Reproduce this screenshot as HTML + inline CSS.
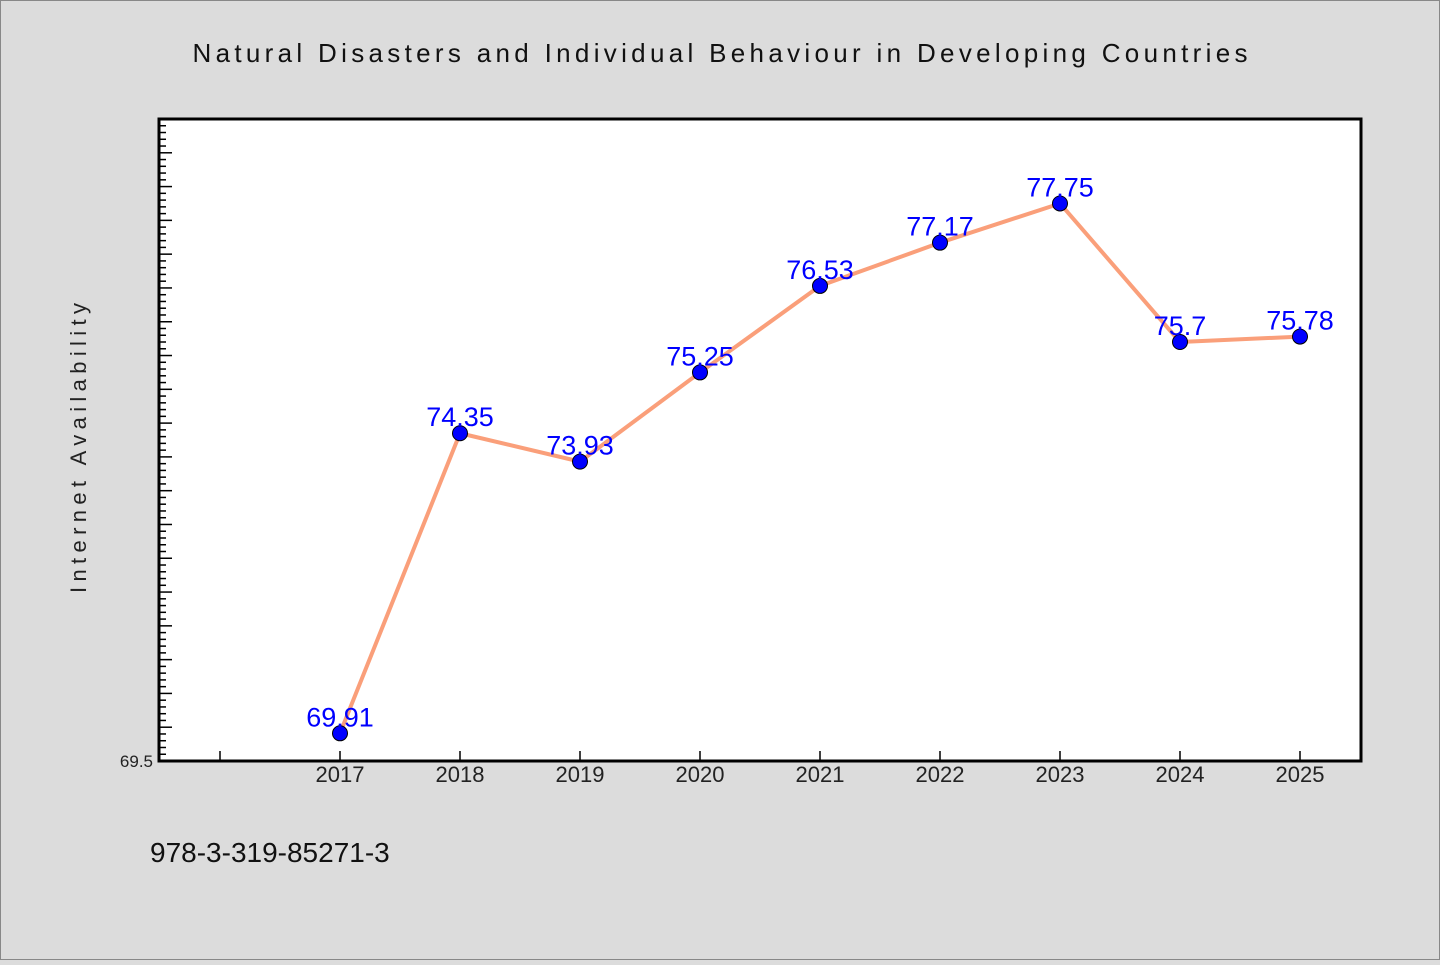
<!DOCTYPE html>
<html><head><meta charset="utf-8"><style>
body{margin:0;background:#dcdcdc}
svg text{font-family:"WenQuanYi Zen Hei","Liberation Sans",sans-serif}
</style></head><body>
<svg width="1440" height="960" xmlns="http://www.w3.org/2000/svg">
<rect x="0.5" y="0.5" width="1439" height="959" fill="#dcdcdc" stroke="#888"/>
<text x="720" y="62" text-anchor="middle" font-size="26" textLength="1055" fill="#111">Natural Disasters and Individual Behaviour in Developing Countries</text>
<rect x="159" y="119" width="1202" height="642" fill="#fff"/>
<g id="ticks"></g>
<polyline id="line" fill="none" stroke="#fa9f7a" stroke-width="4" stroke-linejoin="round"/>
<g id="pts"></g>
<rect x="159" y="119" width="1202" height="642" fill="none" stroke="#000" stroke-width="3"/>
<text x="86" y="448" transform="rotate(-90 86 448)" text-anchor="middle" font-size="22" textLength="290" fill="#222">Internet Availability</text>
<text x="150" y="862" font-size="28" fill="#111">978-3-319-85271-3</text>
</svg>
<script>
const years=[2017,2018,2019,2020,2021,2022,2023,2024,2025];
const values=[69.91,74.35,73.93,75.25,76.53,77.17,77.75,75.7,75.78];
const yMin=69.5,yMax=79.0;
const NS="http://www.w3.org/2000/svg";
function X(v){return 340+(v-2017)*120;}
function Y(v){return 761-(v-yMin)*(642/(yMax-yMin));}
const tk=document.getElementById('ticks');
function mk(t,a,p){const e=document.createElementNS(NS,t);for(const k in a)e.setAttribute(k,a[k]);p.appendChild(e);return e;}
for(let i=0;i<=95;i++){const v=yMin+i*0.1;const y=Y(v);const major=i%5===0;
 const l=mk('line',{x1:159,x2:159+(major?13:7),y1:y,y2:y,stroke:'#000','stroke-width':1.5},tk);
 
 }
const yl=mk('text',{x:153,y:767,'text-anchor':'end','font-size':17,fill:'#222'},document.querySelector('svg'));
yl.textContent=yMin;


for(let yr=2016;yr<=2025;yr++){const x=X(yr);
 const l=mk('line',{x1:x,x2:x,y1:761,y2:751,stroke:'#000','stroke-width':1.5},tk);
 
 }
years.forEach(yr=>{const t=mk('text',{x:X(yr),y:782,'text-anchor':'middle','font-size':22,fill:'#222'},document.querySelector('svg'));
 t.textContent=yr;
 
 });
document.getElementById('line').setAttribute('points',years.map((y,i)=>X(y)+','+Y(values[i])).join(' '));
const pts=document.getElementById('pts');
years.forEach((yr,i)=>{const c=mk('circle',{cx:X(yr),cy:Y(values[i]),r:7.5,fill:'#0000ff',stroke:'#000','stroke-width':1},pts);
 
 
 const t=mk('text',{x:X(yr),y:Y(values[i])-7,'text-anchor':'middle','font-size':27,fill:'#0000ff'},pts);
 t.textContent=values[i];
 
 });
</script>
</body></html>
